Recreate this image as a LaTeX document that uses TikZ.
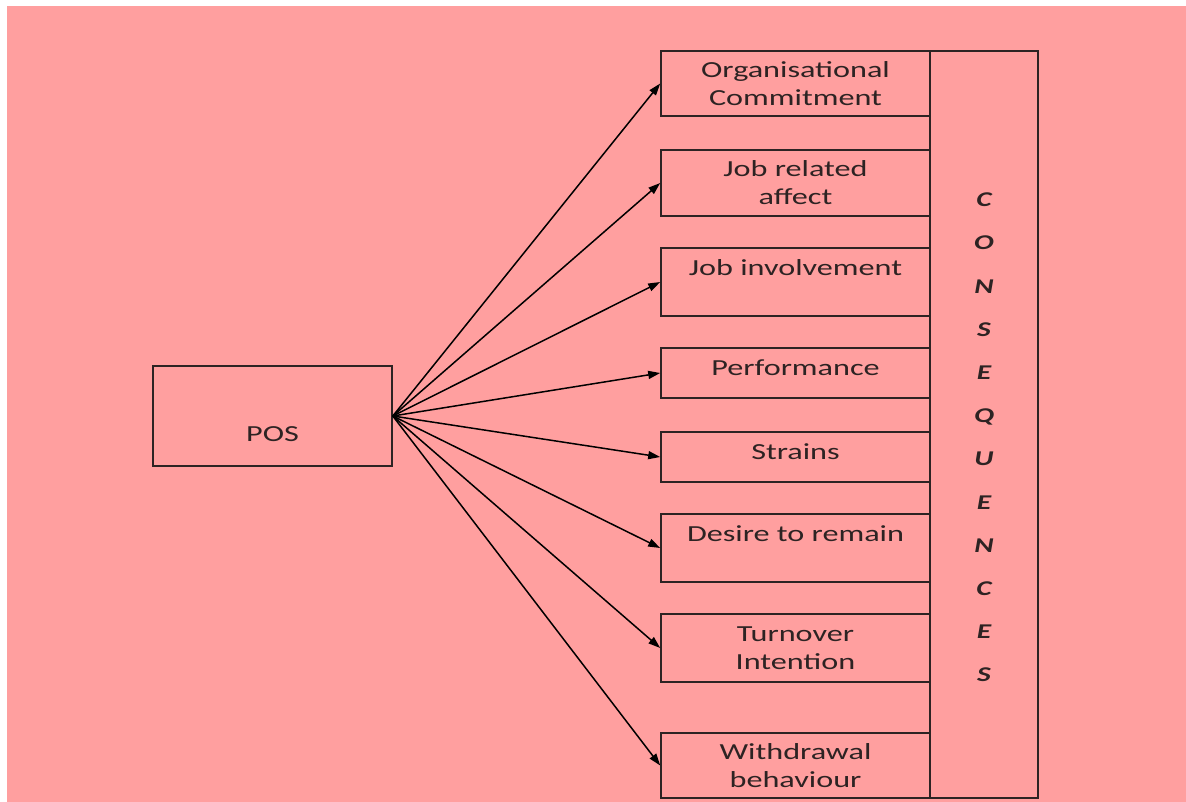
\documentclass[tikz,border=0pt]{standalone}
\usepackage{fontspec}
\setmainfont{Carlito}[FakeStretch=1.4]
\usetikzlibrary{arrows.meta}
\definecolor{bgpink}{RGB}{255,159,159}
\definecolor{inkgray}{RGB}{45,35,35}

\begin{document}
\begin{tikzpicture}[x=1pt,y=-1pt,
        box/.style={rectangle,draw=inkgray,line width=1.6pt,minimum width=269pt,
                inner sep=4pt,align=center,text=inkgray,font=\fontsize{23}{28}\selectfont},
        onebox/.style={box,text height=23.5pt,text depth=#1},
        arr/.style={draw,line width=1.5pt,-{Triangle[length=12pt,width=8pt]}}]

        \useasboundingbox (0,0) rectangle (1186,802);
        \fill[bgpink] (7,6) rectangle (1186,802);

        \node[box,minimum width=239pt,minimum height=100pt,
              text height=50pt,text depth=0pt] (pos) at (272.5,416) {POS};

        \begin{scope}
            \node[box,minimum height=65pt] (org) at (795.5,83.5) {Organisational\\Commitment};
            \node[box,minimum height=66pt] (jra) at (795.5,183) {Job related\\affect};
            \node[onebox=36.5pt] (jin) at (795.5,282) {Job involvement};
            \node[onebox=18.5pt] (perf) at (795.5,373) {Performance};
            \node[onebox=18.5pt] (strain) at (795.5,457) {Strains};
            \node[onebox=36.5pt] (desire) at (795.5,548) {Desire to remain};
            \node[box,minimum height=68pt] (turn) at (795.5,648) {Turnover\\Intention};
            \node[box,minimum height=65pt] (withd) at (795.5,765.5) {Withdrawal\\behaviour};
        \end{scope}

        \node[draw=inkgray,line width=1.6pt,minimum width=108pt,minimum height=747pt] (cons) at (984,424.5) {};
        \node[text=inkgray,align=center,inner sep=0pt,
              font=\fontsize{21}{43.2}\selectfont\bfseries\itshape] (word) at (984,437.5)
              {C\\O\\N\\S\\E\\Q\\U\\E\\N\\C\\E\\S};

        \path (pos.east) edge[arr] (org.west);
        \path (pos.east) edge[arr] (jra.west);
        \path (pos.east) edge[arr] (jin.west);
        \path (pos.east) edge[arr] (perf.west);
        \path (pos.east) edge[arr] (strain.west);
        \path (pos.east) edge[arr] (desire.west);
        \path (pos.east) edge[arr] (turn.west);
        \path (pos.east) edge[arr] (withd.west);
    \end{tikzpicture}
\end{document}
